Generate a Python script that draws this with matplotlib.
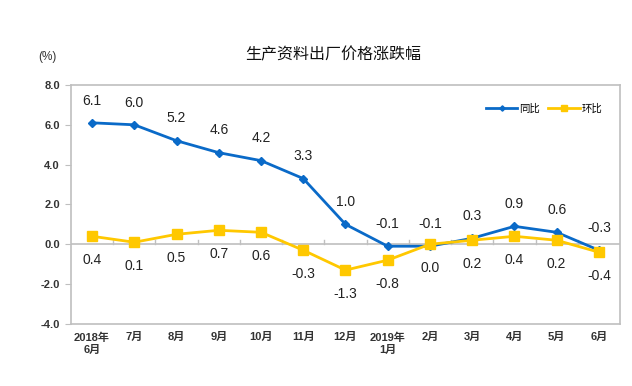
import matplotlib
matplotlib.use("Agg")
import matplotlib.pyplot as plt

plt.rcParams['font.family'] = ['Liberation Sans', 'Noto Sans CJK SC', 'DejaVu Sans']

categories = ["2018年\n6月", "7月", "8月", "9月", "10月", "11月", "12月",
              "2019年\n1月", "2月", "3月", "4月", "5月", "6月"]
yoy = [6.1, 6.0, 5.2, 4.6, 4.2, 3.3, 1.0, -0.1, -0.1, 0.3, 0.9, 0.6, -0.3]
mom = [0.4, 0.1, 0.5, 0.7, 0.6, -0.3, -1.3, -0.8, 0.0, 0.2, 0.4, 0.2, -0.4]
yticks = [-4.0, -2.0, 0.0, 2.0, 4.0, 6.0, 8.0]
title = "生产资料出厂价格涨跌幅"
unit = "(%)"
series_names = ["同比", "环比"]

blue = "#0A6AC8"
yellow = "#FFC800"
gray = "#BFBFBF"

fig = plt.figure(figsize=(6.32, 3.86), dpi=100)
ax = fig.add_axes([0.1123, 0.161, 0.8687, 0.6188])
x = list(range(len(categories)))

ax.plot(x, yoy, color=blue, lw=2, marker='D', ms=4.5, label=series_names[0], zorder=3)
ax.plot(x, mom, color=yellow, lw=2, marker='s', ms=7, label=series_names[1], zorder=3)

for xi, v in zip(x, yoy):
    ax.annotate(f"{v:.1f}", (xi, v), xytext=(0, 11), textcoords='offset points',
                ha='center', va='bottom', fontsize=10, color='#222222')
for xi, v in zip(x, mom):
    ax.annotate(f"{v:.1f}", (xi, v), xytext=(0, -12), textcoords='offset points',
                ha='center', va='top', fontsize=10, color='#222222')

ax.set_xlim(-0.5, len(categories) - 0.5)
ax.set_ylim(yticks[0], yticks[-1])
ax.set_yticks(yticks)
ax.set_yticklabels([f"{t:.1f}" for t in yticks], fontsize=8, fontweight='bold', color='#333333')
ax.set_xticks(x)
ax.set_xticklabels(categories, fontsize=8, fontweight='bold', color='#333333', linespacing=1.3)
ax.tick_params(axis='x', length=0, pad=6)
ax.tick_params(axis='y', length=4, color=gray, pad=4)
for s in ax.spines.values():
    s.set_color(gray)
    s.set_linewidth(1.2)

# zero axis line with category tick marks
ax.axhline(0, color=gray, lw=1.2, zorder=1)
for b in range(1, len(categories)):
    ax.plot([b - 0.5, b - 0.5], [0, 0.2], color=gray, lw=1, zorder=1)

leg = ax.legend(loc='upper right', bbox_to_anchor=(0.985, 0.96), ncol=2, frameon=False,
                fontsize=7.5, handlelength=3, columnspacing=0.8, handletextpad=0.2,
                markerscale=0.6)

fig.text(0.527, 0.857, title, ha='center', va='center', fontsize=11.5, color='#111111')
fig.text(0.075, 0.852, unit, ha='center', va='center', fontsize=8.5, color='#333333')

fig.savefig("out.png", dpi=100)
